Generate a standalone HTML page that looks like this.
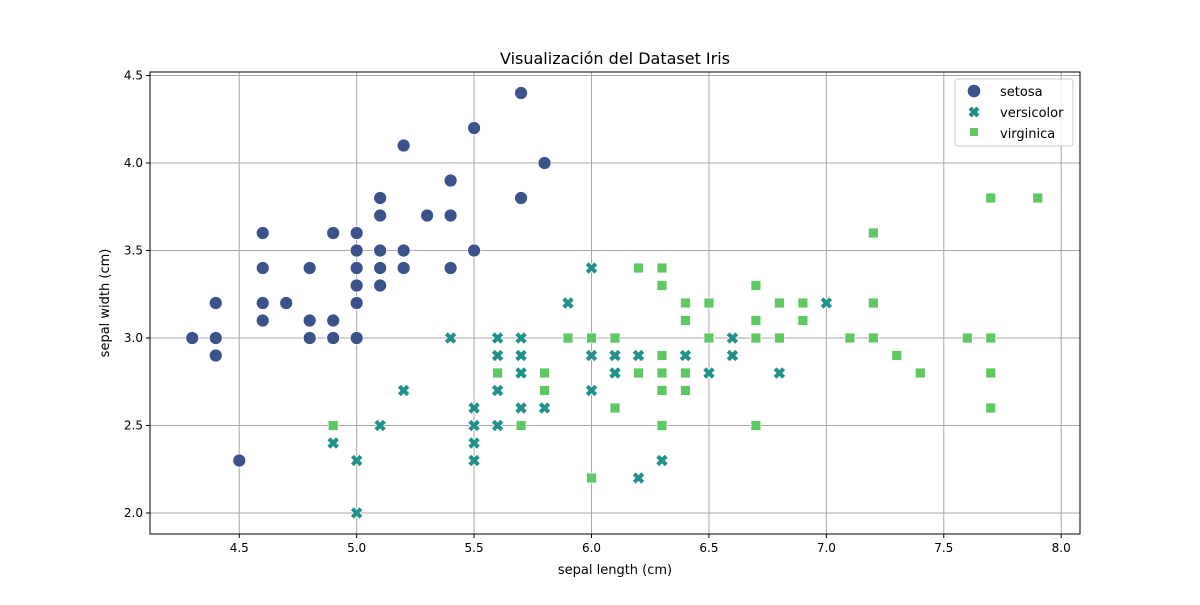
<!DOCTYPE html>
<html><head><meta charset="utf-8">
<style>
body{margin:0;background:#fff;}
svg text{font-family:"DejaVu Sans","Liberation Sans",sans-serif;fill:#000;}
</style></head>
<body>
<svg id="chart" width="1200" height="600" xmlns="http://www.w3.org/2000/svg">
<rect width="1200" height="600" fill="#fff"/>
<g id="grid"></g>
<g id="pts"></g>
<rect x="150" y="72" width="930" height="462" fill="none" stroke="#000" stroke-width="1"/>
<g id="axes"></g>
<text x="615" y="64" text-anchor="middle" font-size="16">Visualización del Dataset Iris</text>
<text x="615" y="574" text-anchor="middle" font-size="13">sepal length (cm)</text>
<text x="0" y="0" transform="translate(109,303) rotate(-90)" text-anchor="middle" font-size="13">sepal width (cm)</text>
<g>
<rect x="955" y="79" width="118" height="67" rx="3" fill="#fff" fill-opacity="0.8" stroke="#ccc"/>
<g><circle cx="974" cy="91" r="6.3" fill="#3b528b"/><text x="1000" y="96" font-size="13">setosa</text></g>
<g><path id="lgx" d="" fill="#21918c"/><text x="1000" y="117" font-size="13">versicolor</text></g>
<g><rect x="970" y="128" width="8" height="8" fill="#5ec962"/><text x="1000" y="138" font-size="13">virginica</text></g>
</g>
</svg>
<script>
const setosaX=[5.1,4.9,4.7,4.6,5.0,5.4,4.6,5.0,4.4,4.9,5.4,4.8,4.8,4.3,5.8,5.7,5.4,5.1,5.7,5.1,5.4,5.1,4.6,5.1,4.8,5.0,5.0,5.2,5.2,4.7,4.8,5.4,5.2,5.5,4.9,5.0,5.5,4.9,4.4,5.1,5.0,4.5,4.4,5.0,5.1,4.8,5.1,4.6,5.3,5.0];
const setosaY=[3.5,3.0,3.2,3.1,3.6,3.9,3.4,3.4,2.9,3.1,3.7,3.4,3.0,3.0,4.0,4.4,3.9,3.5,3.8,3.8,3.4,3.7,3.6,3.3,3.4,3.0,3.4,3.5,3.4,3.2,3.1,3.4,4.1,4.2,3.1,3.2,3.5,3.6,3.0,3.4,3.5,2.3,3.2,3.5,3.8,3.0,3.8,3.2,3.7,3.3];
const versicolorX=[7.0,6.4,6.9,5.5,6.5,5.7,6.3,4.9,6.6,5.2,5.0,5.9,6.0,6.1,5.6,6.7,5.6,5.8,6.2,5.6,5.9,6.1,6.3,6.1,6.4,6.6,6.8,6.7,6.0,5.7,5.5,5.5,5.8,6.0,5.4,6.0,6.7,6.3,5.6,5.5,5.5,6.1,5.8,5.0,5.6,5.7,5.7,6.2,5.1,5.7];
const versicolorY=[3.2,3.2,3.1,2.3,2.8,2.8,3.3,2.4,2.9,2.7,2.0,3.0,2.2,2.9,2.9,3.1,3.0,2.7,2.2,2.5,3.2,2.8,2.5,2.8,2.9,3.0,2.8,3.0,2.9,2.6,2.4,2.4,2.7,2.7,3.0,3.4,3.1,2.3,3.0,2.5,2.6,3.0,2.6,2.3,2.7,3.0,2.9,2.9,2.5,2.8];
const virginicaX=[6.3,5.8,7.1,6.3,6.5,7.6,4.9,7.3,6.7,7.2,6.5,6.4,6.8,5.7,5.8,6.4,6.5,7.7,7.7,6.0,6.9,5.6,7.7,6.3,6.7,7.2,6.2,6.1,6.4,7.2,7.4,7.9,6.4,6.3,6.1,7.7,6.3,6.4,6.0,6.9,6.7,6.9,5.8,6.8,6.7,6.7,6.3,6.5,6.2,5.9];
const virginicaY=[3.3,2.7,3.0,2.9,3.0,3.0,2.5,2.9,2.5,3.6,3.2,2.7,3.0,2.5,2.8,3.2,3.0,3.8,2.6,2.2,3.2,2.8,2.8,2.7,3.3,3.2,2.8,3.0,2.8,3.0,2.8,3.8,2.8,2.8,2.6,3.0,3.4,3.1,3.0,3.1,3.1,3.1,2.7,3.2,3.3,3.0,2.5,3.0,3.4,3.0];
const xTicks=[4.5,5.0,5.5,6.0,6.5,7.0,7.5,8.0];
const yTicks=[2.0,2.5,3.0,3.5,4.0,4.5];
const xMin=4.12,xMax=8.08,yMin=1.88,yMax=4.52;
const L=150,R=1080,T=72,B=534;
const sx=v=>L+(v-xMin)/(xMax-xMin)*(R-L);
const sy=v=>B-(v-yMin)/(yMax-yMin)*(B-T);
const NS="http://www.w3.org/2000/svg";
const grid=document.getElementById('grid'),axes=document.getElementById('axes'),pts=document.getElementById('pts');
function mk(tag,attrs,parent){const e=document.createElementNS(NS,tag);for(const k in attrs)e.setAttribute(k,attrs[k]);parent.appendChild(e);return e;}
xTicks.forEach(t=>{const x=sx(t);
const g=mk('line',{x1:x,x2:x,y1:T,y2:B,stroke:'#a8a8a8','stroke-width':1},grid);


mk('line',{x1:x,x2:x,y1:B,y2:B+4,stroke:'#000'},axes);
const tx=mk('text',{x:x,y:B+18,'text-anchor':'middle','font-size':12},axes);tx.textContent=t.toFixed(1);

});
yTicks.forEach(t=>{const y=sy(t);
const g=mk('line',{x1:L,x2:R,y1:y,y2:y,stroke:'#a8a8a8','stroke-width':1},grid);


mk('line',{x1:L-4,x2:L,y1:y,y2:y,stroke:'#000'},axes);
const tx=mk('text',{x:L-7,y:y+4,'text-anchor':'end','font-size':12},axes);tx.textContent=t.toFixed(1);

});
function xPath(cx,cy,s){const a=s,b=s*0.55;
const p=[[0,-b],[a-b,-a],[a,-a+b],[b,0],[a,a-b],[a-b,a],[0,b],[-a+b,a],[-a,a-b],[-b,0],[-a,-a+b],[-a+b,-a]];
return 'M'+p.map(q=>(cx+q[0])+','+(cy+q[1])).join('L')+'Z';}
document.getElementById('lgx').setAttribute('d',xPath(974,112,5.5));
setosaX.forEach((v,i)=>{const c=mk('circle',{cx:sx(v),cy:sy(setosaY[i]),r:6.5,fill:'#3b528b',stroke:'#fff','stroke-width':0.8},pts);

});
versicolorX.forEach((v,i)=>{const c=mk('path',{d:xPath(sx(v),sy(versicolorY[i]),6.3),fill:'#21918c',stroke:'#fff','stroke-width':0.8},pts);

});
virginicaX.forEach((v,i)=>{const c=mk('rect',{x:sx(v)-5,y:sy(virginicaY[i])-5,width:10,height:10,fill:'#5ec962',stroke:'#fff','stroke-width':0.8},pts);

});
</script>
</body></html>
